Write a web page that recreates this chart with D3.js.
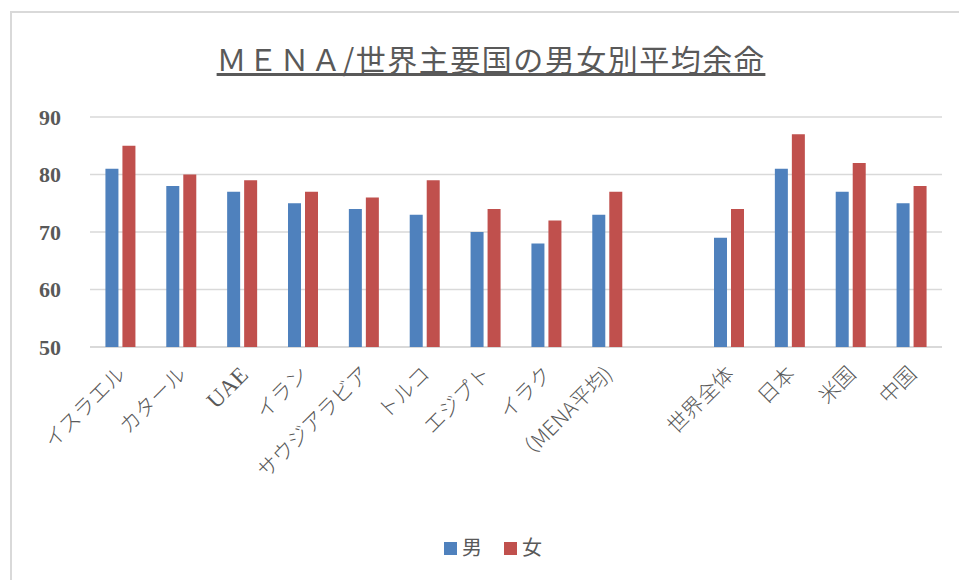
<!DOCTYPE html>
<html>
<head>
<meta charset="utf-8">
<script src="https://cdn.jsdelivr.net/npm/d3@7"></script>
<style>
    body { margin: 0; background: #fff; }
    svg { display: block; }
</style>
</head>
<body>
<div id="chart"></div>
<script>
// Data
const categories = ['イスラエル', 'カタール', 'UAE', 'イラン', 'サウジアラビア', 'トルコ', 'エジプト', 'イラク', '（MENA平均)', '', '世界全体', '日本', '米国', '中国'];
const maleValues = [81, 78, 77, 75, 74, 73, 70, 68, 73, null, 69, 81, 77, 75];
const femaleValues = [85, 80, 79, 77, 76, 79, 74, 72, 77, null, 74, 87, 82, 78];
const seriesNames = ['男', '女'];
const yTicks = [50, 60, 70, 80, 90];

const width = 959;
const height = 580;
const margin = { top: 117, right: 17, bottom: 233, left: 90 };
const colors = ['#4f81bd', '#c0504d'];
const serif = '"Liberation Serif", "DejaVu Serif", "Noto Sans CJK JP", serif';
const jp = '"Noto Sans CJK JP", sans-serif';

const svg = d3.select('#chart')
    .append('svg')
    .attr('width', width)
    .attr('height', height);

// Chart frame (only top and left edges are visible in the picture)
svg.append('path')
    .attr('d', `M11,${height + 5}V12H${width + 5}`)
    .attr('fill', 'none')
    .attr('stroke', '#d9d9d9')
    .attr('stroke-width', 2);

const chartWidth = width - margin.left - margin.right;
const chartHeight = height - margin.top - margin.bottom;

const g = svg.append('g')
    .attr('transform', `translate(${margin.left},${margin.top})`);

const x = d3.scaleBand()
    .domain(d3.range(categories.length))
    .range([0, chartWidth]);

const y = d3.scaleLinear()
    .domain([50, 90])
    .range([chartHeight, 0]);

// Gridlines
g.selectAll('.grid')
    .data(yTicks)
    .enter()
    .append('line')
    .attr('x1', 0)
    .attr('x2', chartWidth)
    .attr('y1', d => y(d))
    .attr('y2', d => y(d))
    .attr('stroke', '#d9d9d9')
    .attr('stroke-width', d => d === 50 ? 2 : 1.5);

// Y axis labels
const yAxis = d3.axisLeft(y)
    .tickValues(yTicks)
    .tickSize(0)
    .tickPadding(29);

g.append('g')
    .call(yAxis)
    .call(a => a.select('.domain').remove())
    .selectAll('text')
    .style('font-family', serif)
    .style('font-size', '22px')
    .style('font-weight', '700')
    .style('fill', '#595959');

// Bars
const barW = 13;
const gap = 4;
const series = [maleValues, femaleValues];

series.forEach((vals, si) => {
    g.selectAll(`.bar-${si}`)
        .data(vals.map((v, i) => ({ v, i })).filter(d => d.v !== null))
        .enter()
        .append('rect')
        .attr('x', d => x(d.i) + x.bandwidth() / 2 + (si === 0 ? -barW - gap / 2 : gap / 2))
        .attr('y', d => y(d.v))
        .attr('width', barW)
        .attr('height', d => y(50) - y(d.v))
        .attr('fill', colors[si]);
});

// X axis labels, rotated; latin-only labels use the serif face
const isLatin = d => /^[A-Z]+$/.test(d);

g.selectAll('.xlabel')
    .data(categories)
    .enter()
    .append('text')
    .attr('transform', (d, i) => `translate(${x(i) + x.bandwidth() / 2 - 4},${chartHeight + 18}) rotate(-45)`)
    .attr('text-anchor', 'end')
    .attr('dy', '0.7em')
    .style('font-family', d => isLatin(d) ? serif : jp)
    .style('font-size', d => isLatin(d) ? '23px' : '21px')
    .style('font-weight', d => isLatin(d) ? '400' : '300')
    .style('fill', '#595959')
    .text(d => d);

// Title
svg.append('text')
    .attr('x', 491)
    .attr('y', 71)
    .attr('text-anchor', 'middle')
    .style('font-family', jp)
    .style('font-size', '30px')
    .style('letter-spacing', '1.5px')
    .style('fill', '#595959')
    .style('text-decoration', 'underline')
    .text('ＭＥＮＡ/世界主要国の男女別平均余命');

// Legend
const legend = svg.append('g')
    .attr('transform', 'translate(444, 548)');

seriesNames.forEach((name, i) => {
    const row = legend.append('g')
        .attr('transform', `translate(${i * 60}, 0)`);

    row.append('rect')
        .attr('x', 0)
        .attr('y', -6)
        .attr('width', 13)
        .attr('height', 13)
        .attr('fill', colors[i]);

    row.append('text')
        .attr('x', 18)
        .attr('y', 0)
        .attr('dy', '0.35em')
        .style('font-family', jp)
        .style('font-size', '20px')
        .style('fill', '#595959')
        .text(name);
});
</script>
</body>
</html>
